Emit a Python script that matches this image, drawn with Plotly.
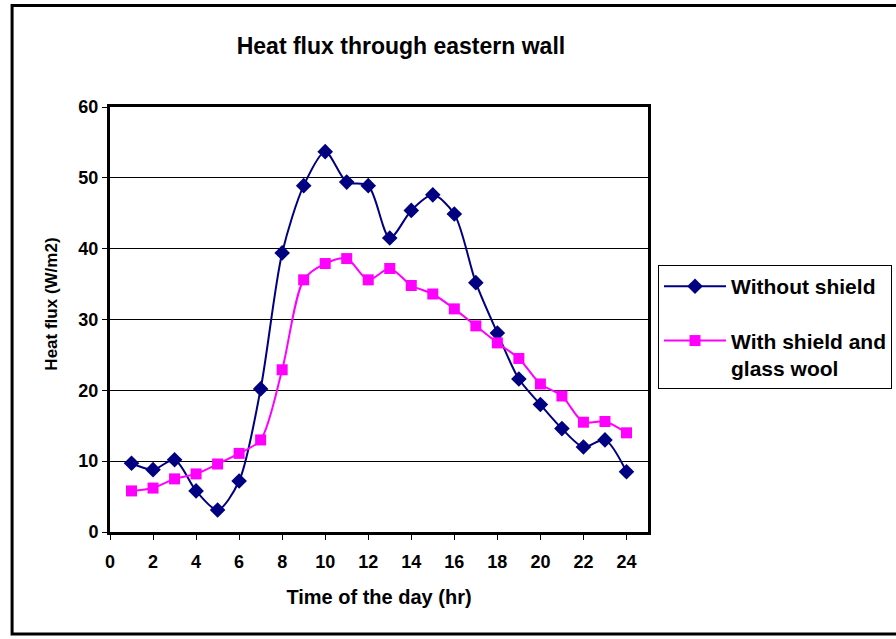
import plotly.graph_objects as go

# Hour of the day
hours = list(range(1, 25))

# Heat flux (W/m2) through the eastern wall
without_shield = [9.7, 8.8, 10.2, 5.8, 3.1, 7.2, 20.2, 39.4, 48.9, 53.7, 49.4, 48.9,
                  41.5, 45.4, 47.6, 44.9, 35.2, 28.1, 21.6, 18.0, 14.6, 12.0, 13.0, 8.5]
with_shield = [5.8, 6.2, 7.5, 8.2, 9.6, 11.1, 13.0, 22.9, 35.6, 37.9, 38.6, 35.6,
               37.2, 34.8, 33.6, 31.5, 29.1, 26.7, 24.5, 20.9, 19.2, 15.5, 15.6, 14.0]

x_ticks = list(range(0, 25, 2))
y_ticks = list(range(0, 61, 10))

FONT = "Liberation Sans, Arial, sans-serif"

fig = go.Figure()
fig.add_trace(go.Scatter(
    x=hours, y=without_shield, name="Without shield", legendgroup="a",
    mode="lines+markers",
    line=dict(color="#000080", width=2, shape="spline", smoothing=0.8),
    marker=dict(symbol="diamond", size=12, color="#000080"),
))
fig.add_trace(go.Scatter(
    x=hours, y=with_shield, name="With shield and<br>glass wool", legendgroup="b",
    mode="lines+markers",
    line=dict(color="#FF00FF", width=2, shape="spline", smoothing=0.8),
    marker=dict(symbol="square", size=11, color="#FF00FF"),
))

fig.update_layout(
    width=896, height=639,
    margin=dict(l=110, r=248, t=107, b=107, autoexpand=False),
    paper_bgcolor="white", plot_bgcolor="white",
    font=dict(family=FONT, color="black", size=18, weight="bold"),
    title=dict(text="Heat flux through eastern wall", x=0.4475, xref="container",
               y=1 - 46 / 639, yref="container", xanchor="center", yanchor="middle",
               font=dict(family=FONT, size=23, weight="bold", color="black")),
    showlegend=True,
    legend=dict(x=1.0186, y=0.628, xanchor="left", yanchor="top",
                bordercolor="black", borderwidth=1, bgcolor="white",
                font=dict(family=FONT, size=21, weight="bold"),
                tracegroupgap=24, itemwidth=62, valign="top"),
    shapes=[dict(type="rect", xref="paper", yref="paper",
                 x0=-0.182, x1=1.47, y0=-0.240, y1=1.239,
                 line=dict(color="black", width=3), layer="below")],
    annotations=[dict(text="Heat flux (W/m2)", textangle=-90,
                      xref="paper", yref="paper", x=-0.1078, y=0.535,
                      xanchor="center", yanchor="middle", showarrow=False,
                      font=dict(family=FONT, size=17, weight="bold", color="black"))],
)

fig.update_xaxes(
    range=[0, 25], tickvals=x_ticks, ticktext=[str(v) for v in x_ticks],
    showgrid=False, zeroline=False,
    showline=True, linecolor="black", linewidth=3, mirror=True,
    ticks="outside", ticklen=5, tickcolor="black", tickwidth=1,
    ticklabelstandoff=6,
    tickfont=dict(family=FONT, size=18, weight="bold"),
    title=dict(text="Time of the day (hr)", standoff=20,
               font=dict(family=FONT, size=20, weight="bold")),
)
fig.update_yaxes(
    range=[0, 60], tickvals=y_ticks, ticktext=[str(v) for v in y_ticks],
    showgrid=True, gridcolor="black", gridwidth=1, zeroline=False,
    showline=True, linecolor="black", linewidth=3, mirror=True,
    ticks="outside", ticklen=5, tickcolor="black", tickwidth=1,
    tickfont=dict(family=FONT, size=18, weight="bold"),
)

fig.write_html("out.html")
